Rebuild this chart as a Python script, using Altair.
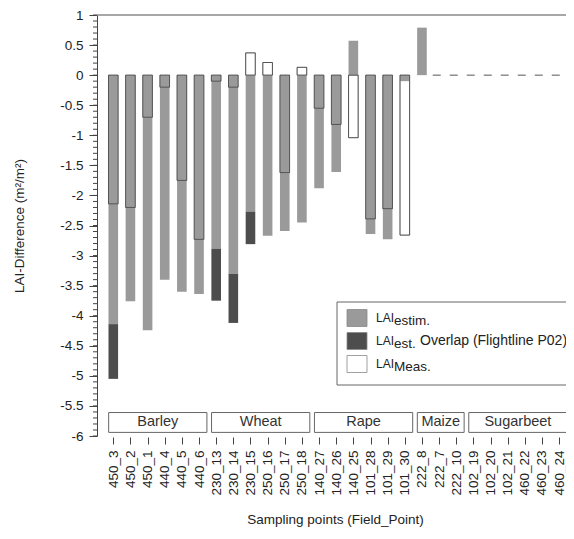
import altair as alt
import pandas as pd

points = ["450_3", "450_2", "450_1", "440_4", "440_5", "440_6",
          "230_13", "230_14", "230_15", "250_16", "250_17", "250_18",
          "140_27", "140_26", "140_25", "101_28", "101_29", "101_30",
          "222_8", "222_7", "222_10",
          "102_19", "102_20", "102_21", "460_22", "460_23", "460_24"]

lai_estim = [-4.14, -3.76, -4.24, -3.40, -3.60, -3.64,
             -2.89, -3.30, -2.27, -2.67, -2.59, -2.45,
             -1.88, -1.61, 0.57, -2.64, -2.73, -0.10,
             0.79, None, None,
             None, None, None, None, None, None]

lai_overlap = [-5.05, None, None, None, None, None,
               -3.75, -4.12, -2.81, None, None, None,
               None, None, None, None, None, None,
               None, None, None,
               None, None, None, None, None, None]

lai_meas = [-2.14, -2.20, -0.70, -0.20, -1.75, -2.73,
            -0.10, -0.20, 0.37, 0.21, -1.62, 0.13,
            -0.55, -0.82, -1.04, -2.39, -2.22, -2.66,
            None, None, None,
            None, None, None, None, None, None]

groups = ["Barley", "Wheat", "Rape", "Maize", "Sugarbeet"]
group_first = [0, 6, 12, 18, 21]
group_last = [5, 11, 17, 20, 26]

y_ticks = [1, 0.5, 0, -0.5, -1, -1.5, -2, -2.5, -3, -3.5, -4, -4.5, -5, -5.5, -6]

FONT = "Liberation Sans"
W, H = 469, 421
X_DOMAIN = [-0.95, 26.4]
HALF = 0.28

xs = alt.Scale(domain=X_DOMAIN, nice=False, zero=False)
ys = alt.Scale(domain=[-6, 1], nice=False, zero=False)

idx = list(range(len(points)))
df = pd.DataFrame({"i": idx, "point": points, "estim": lai_estim,
                   "overlap": lai_overlap, "meas": lai_meas})
df["x0"] = df["i"] - HALF
df["x1"] = df["i"] + HALF
df["zero"] = 0.0

label_expr = "[" + ",".join("'" + p + "'" for p in points) + "][datum.value]"

x_axis = alt.Axis(values=idx, labelExpr=label_expr, labelAngle=270,
                  labelAlign="right", labelBaseline="middle",
                  labelFont=FONT, labelFontSize=13.5, labelColor="#222",
                  labelPadding=6, labelOverlap=False, labelFlush=False,
                  tickSize=7, tickColor="#444", tickWidth=1, domain=False,
                  offset=1, grid=False,
                  title="Sampling points (Field_Point)", titleFont=FONT,
                  titleFontSize=13.5, titleFontWeight="normal",
                  titleColor="#222", titleY=82, titleX=238,
                  titleBaseline="middle", titleAlign="center")

y_axis = alt.Axis(values=y_ticks, labelExpr="datum.value + ''",
                  labelFont=FONT, labelFontSize=13.5, labelColor="#222",
                  labelPadding=6, labelOverlap=False, labelFlush=False,
                  tickSize=8, tickColor="#444", domainColor="#444",
                  grid=False,
                  title="LAI-Difference (m²/m²)", titleFont=FONT,
                  titleFontSize=13.5, titleFontWeight="normal",
                  titleColor="#222", titleX=-78, titleY=H / 2,
                  titleAngle=270, titleAlign="center",
                  titleBaseline="middle")


def X(f):
    return alt.X(f, scale=xs, axis=x_axis)


def Y(f):
    return alt.Y(f, scale=ys, axis=y_axis)


# measured bars, white fill
meas_fill = alt.Chart(df.dropna(subset=["meas"])).mark_bar(
    color="white", stroke="#999", strokeWidth=1).encode(
    x=X("x0:Q"), x2="x1:Q", y=Y("zero:Q"), y2="meas:Q")

estim = alt.Chart(df.dropna(subset=["estim"])).mark_bar(
    color="#9a9a9a").encode(
    x=X("x0:Q"), x2="x1:Q", y=Y("zero:Q"), y2="estim:Q")

overlap = alt.Chart(df.dropna(subset=["overlap"])).mark_bar(
    color="#4d4d4d").encode(
    x=X("x0:Q"), x2="x1:Q", y=Y("estim:Q"), y2="overlap:Q")

meas_line = alt.Chart(df.dropna(subset=["meas"])).mark_bar(
    fill=None, fillOpacity=0, stroke="black", strokeOpacity=0.45,
    strokeWidth=1).encode(
    x=X("x0:Q"), x2="x1:Q", y=Y("zero:Q"), y2="meas:Q")

# dashed zero line for points without values
missing = [i for i, v in enumerate(lai_estim) if v is None]
dash_df = pd.DataFrame({"x0": [min(missing) - 0.37], "x1": [X_DOMAIN[1]], "zero": [0.0]})
dash = alt.Chart(dash_df).mark_rule(
    color="#555", strokeWidth=1, strokeDash=[8, 9]).encode(
    x=X("x0:Q"), x2="x1:Q", y=Y("zero:Q"))

# minor ticks on y axis
minor_vals = [round(-6 + 0.1 * k, 1) for k in range(71)]
minor_df = pd.DataFrame({"zero": minor_vals})
minor = alt.Chart(minor_df).mark_rule(color="#444", strokeWidth=1).encode(
    x=alt.value(-4), x2=alt.value(0), y=Y("zero:Q"))

# top frame line
top = alt.Chart(pd.DataFrame({"a": [0]})).mark_rule(
    color="#8a8a8a", strokeWidth=1.5).encode(
    x=alt.value(0), x2=alt.value(W), y=alt.value(0))

# crop group boxes
gdf = pd.DataFrame({"g": groups, "first": group_first, "last": group_last})
gdf["x0"] = gdf["first"] - 0.27
gdf["x1"] = gdf["last"] + 0.46
gdf["zero"] = -5.61
gdf["yb"] = -5.94
gdf["xm"] = (gdf["x0"] + gdf["x1"]) / 2
gdf["ym"] = -5.775
gboxes = alt.Chart(gdf).mark_rect(
    fill="white", stroke="#666", strokeWidth=1, clip=True).encode(
    x=X("x0:Q"), x2="x1:Q", y=Y("zero:Q"), y2="yb:Q")
gtext = alt.Chart(gdf).mark_text(
    font=FONT, fontSize=14.5, color="#333", baseline="middle",
    align="center", clip=True).encode(
    x=X("xm:Q"), y=Y("ym:Q"), text="g:N")

# legend
one = pd.DataFrame({"a": [0]})
layers_leg = [
    alt.Chart(one).mark_rect(fill="white", stroke="#666", strokeWidth=1).encode(
        x=alt.value(240), x2=alt.value(495), y=alt.value(287), y2=alt.value(370))
]
leg_colors = ["#9a9a9a", "#4d4d4d", "white"]
leg_subs = ["estim.", "est.", "Meas."]
leg_tail = ["", "Overlap (Flightline P02)", ""]
row_c = [303, 326, 349]
for c, sub, tail, yc in zip(leg_colors, leg_subs, leg_tail, row_c):
    layers_leg.append(alt.Chart(one).mark_rect(
        fill=c, stroke="#888", strokeWidth=0.8).encode(
        x=alt.value(250), x2=alt.value(270),
        y=alt.value(yc - 8.5), y2=alt.value(yc + 8.5)))
    layers_leg.append(alt.Chart(one).mark_text(
        font=FONT, fontSize=12, color="#222", align="left",
        baseline="alphabetic", text="LAI").encode(
        x=alt.value(279), y=alt.value(yc + 3.5)))
    layers_leg.append(alt.Chart(one).mark_text(
        font=FONT, fontSize=13.5, color="#222", align="left",
        baseline="alphabetic", text=sub).encode(
        x=alt.value(297), y=alt.value(yc + 7)))
    if tail:
        layers_leg.append(alt.Chart(one).mark_text(
            font=FONT, fontSize=14, color="#222", align="left",
            baseline="alphabetic", text=tail).encode(
            x=alt.value(323), y=alt.value(yc + 3.5)))

chart = alt.layer(meas_fill, estim, overlap, meas_line, dash, minor, top,
                  gboxes, gtext, *layers_leg).properties(
    width=W, height=H,
    autosize=alt.AutoSizeParams(type="none"),
    padding={"left": 89, "top": 7, "right": 0, "bottom": 91},
    background="white",
).configure_view(stroke=None)

chart.save("out.html", embed_options={"renderer": "svg", "actions": False})
